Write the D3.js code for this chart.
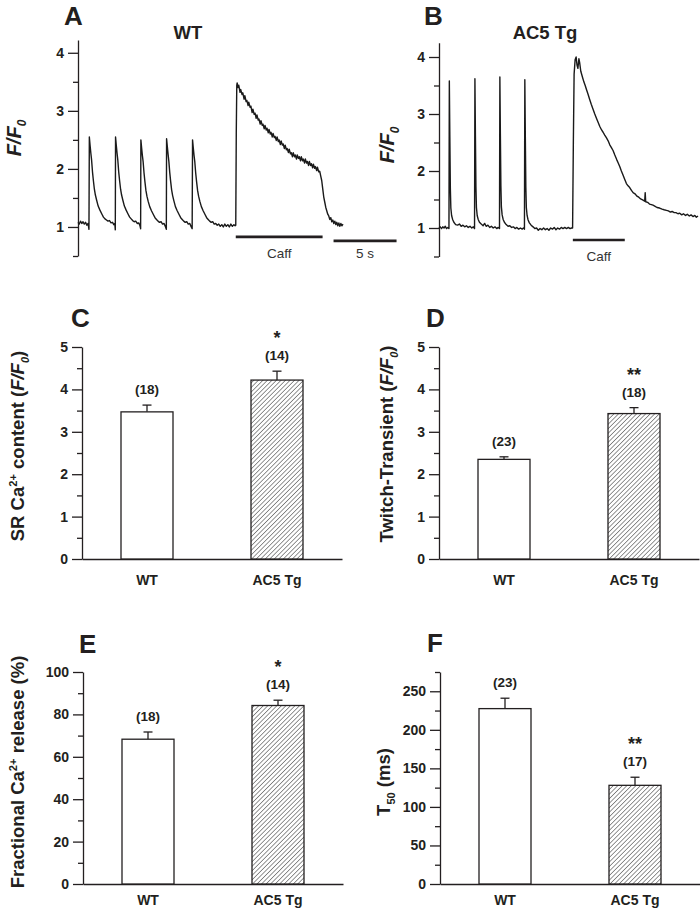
<!DOCTYPE html>
<html><head><meta charset="utf-8">
<script src="https://cdn.jsdelivr.net/npm/d3@7"></script>
<style>body{margin:0;background:#fff}</style>
</head><body><svg id="c" width="700" height="913"></svg>
<script>
// ---------------- DATA ----------------
const groups = ["WT", "AC5 Tg"];

const srContent = [3.47, 4.22];
const srContentErr = [0.16, 0.21];
const srContentN = ["(18)", "(14)"];
const srContentSig = ["", "*"];

const twitchTransient = [2.35, 3.43];
const twitchTransientErr = [0.06, 0.14];
const twitchTransientN = ["(23)", "(18)"];
const twitchTransientSig = ["", "**"];

const fractionalRelease = [68.3, 84.2];
const fractionalReleaseErr = [3.4, 2.5];
const fractionalReleaseN = ["(18)", "(14)"];
const fractionalReleaseSig = ["", "*"];

const t50 = [227.5, 128];
const t50Err = [13.5, 10.5];
const t50N = ["(23)", "(17)"];
const t50Sig = ["", "**"];

const traceTicks = [1, 2, 3, 4];
const traceMinorTicks = [0.5, 1.5, 2.5, 3.5];
const barTicks05 = [0, 1, 2, 3, 4, 5];
const barMinor05 = [0.5, 1.5, 2.5, 3.5, 4.5];
const fracTicks = [0, 20, 40, 60, 80, 100];
const fracMinor = [10, 30, 50, 70, 90];
const t50Ticks = [0, 50, 100, 150, 200, 250];
const t50Minor = [25, 75, 125, 175, 225, 275];

// time (s), F/F0
const wtTrace = [
[0.00,1.08],[0.10,1.05],[0.20,1.10],[0.30,1.06],[0.40,1.09],[0.50,1.05],[0.60,1.08],[0.70,1.03],[0.80,1.06],[0.87,0.96],
[0.90,2.55],[0.96,2.40],[1.02,2.27],[1.08,2.15],[1.15,1.95],[1.22,1.80],[1.30,1.65],[1.38,1.55],[1.48,1.46],[1.60,1.36],[1.74,1.29],[1.90,1.22],[2.02,1.17],[2.14,1.14],[2.26,1.12],[2.38,1.10],[2.50,1.11],[2.62,1.07],[2.74,1.08],[2.84,1.04],[2.92,1.06],[2.96,0.95],
[2.98,2.55],[3.04,2.40],[3.10,2.27],[3.16,2.15],[3.23,1.95],[3.30,1.80],[3.38,1.65],[3.46,1.55],[3.56,1.46],[3.68,1.36],[3.82,1.29],[3.98,1.22],[4.10,1.17],[4.22,1.14],[4.34,1.11],[4.46,1.09],[4.58,1.10],[4.70,1.06],[4.82,1.07],[4.92,1.02],[4.97,0.97],
[4.99,2.50],[5.05,2.36],[5.11,2.23],[5.17,2.12],[5.24,1.93],[5.31,1.78],[5.39,1.63],[5.47,1.53],[5.57,1.44],[5.69,1.35],[5.83,1.28],[5.99,1.21],[6.11,1.16],[6.23,1.13],[6.35,1.10],[6.47,1.08],[6.59,1.09],[6.71,1.05],[6.83,1.06],[6.93,1.01],[7.01,0.96],
[7.03,2.52],[7.09,2.38],[7.15,2.25],[7.21,2.13],[7.28,1.94],[7.35,1.79],[7.43,1.64],[7.51,1.54],[7.61,1.45],[7.73,1.35],[7.87,1.28],[8.03,1.21],[8.15,1.16],[8.27,1.13],[8.39,1.10],[8.51,1.08],[8.63,1.09],[8.75,1.05],[8.87,1.06],[8.97,1.01],[9.06,0.97],
[9.09,2.50],[9.15,2.36],[9.21,2.23],[9.27,2.12],[9.34,1.93],[9.41,1.78],[9.49,1.63],[9.57,1.53],[9.67,1.44],[9.79,1.35],[9.93,1.28],[10.09,1.21],[10.21,1.16],[10.33,1.13],[10.45,1.10],[10.57,1.08],[10.69,1.09],[10.81,1.05],[10.93,1.06],[11.05,1.03],[11.17,1.05],[11.29,1.01],[11.41,1.04],[11.53,1.00],[11.65,1.05],[11.77,1.01],[11.89,1.04],[12.01,1.00],[12.13,1.05],[12.25,1.01],[12.37,1.04],[12.47,1.02],
[12.52,1.03],[12.56,2.60],[12.60,3.44],[12.63,3.48],[12.70,3.40],[12.76,3.44],[12.86,3.32],[12.91,3.37],[13.02,3.28],[13.08,3.31],[13.18,3.20],[13.24,3.26],[13.34,3.16],[13.40,3.18],[13.50,3.09],[13.55,3.15],[13.66,3.06],[13.72,3.08],[13.82,2.97],[13.88,3.03],[13.98,2.94],[14.05,2.96],[14.14,2.87],[14.20,2.93],[14.30,2.84],[14.36,2.86],[14.46,2.77],[14.52,2.83],[14.62,2.75],[14.68,2.77],[14.78,2.69],[14.84,2.75],[14.94,2.67],[15.00,2.70],[15.10,2.62],[15.16,2.68],[15.26,2.60],[15.32,2.63],[15.42,2.55],[15.48,2.61],[15.58,2.54],[15.64,2.56],[15.74,2.49],[15.80,2.55],[15.90,2.47],[15.96,2.50],[16.06,2.42],[16.12,2.48],[16.22,2.41],[16.28,2.43],[16.38,2.35],[16.44,2.41],[16.54,2.33],[16.60,2.35],[16.70,2.28],[16.76,2.34],[16.86,2.26],[16.92,2.28],[17.02,2.21],[17.08,2.28],[17.18,2.21],[17.24,2.24],[17.34,2.17],[17.40,2.24],[17.50,2.18],[17.56,2.21],[17.66,2.14],[17.72,2.21],[17.82,2.14],[17.88,2.17],[17.98,2.10],[18.04,2.17],[18.14,2.10],[18.20,2.13],[18.30,2.06],[18.36,2.13],[18.46,2.06],[18.52,2.09],[18.62,2.02],[18.68,2.08],[18.78,2.01],[18.84,2.04],[18.94,1.97],[19.00,2.03],[19.10,1.95],[19.18,1.96],[19.26,1.88],[19.34,1.80],[19.42,1.66],[19.50,1.52],[19.58,1.43],[19.66,1.34],[19.74,1.28],[19.82,1.22],[19.90,1.19],[19.98,1.13],[20.06,1.16],[20.14,1.09],[20.22,1.12],[20.30,1.06],[20.38,1.10],[20.46,1.04],[20.54,1.08],[20.62,1.02],[20.70,1.07],[20.78,1.01],[20.86,1.06],[20.94,1.02],[21.03,1.05]
];

const tgTrace = [
[0.00,1.00],[0.10,1.02],[0.20,0.99],[0.30,1.02],[0.40,1.00],[0.50,1.03],[0.60,0.99],[0.70,1.01],[0.79,0.99],
[0.82,3.58],[0.86,2.60],[0.90,1.70],[0.94,1.35],[1.00,1.22],[1.08,1.15],[1.18,1.10],[1.32,1.06],[1.48,1.05],[1.62,1.07],[1.76,1.03],[1.90,1.05],[2.04,1.02],[2.18,1.04],[2.32,1.01],[2.46,1.03],[2.60,1.00],[2.72,1.02],[2.82,0.99],
[2.85,3.62],[2.89,2.62],[2.93,1.72],[2.97,1.36],[3.03,1.22],[3.11,1.15],[3.21,1.10],[3.35,1.07],[3.50,1.04],[3.62,1.08],[3.74,1.03],[3.88,1.05],[4.02,1.01],[4.16,1.03],[4.30,1.00],[4.44,1.02],[4.58,0.99],[4.70,1.01],[4.80,0.99],
[4.83,3.65],[4.87,2.64],[4.91,1.74],[4.95,1.37],[5.01,1.23],[5.09,1.15],[5.19,1.10],[5.33,1.06],[5.48,1.03],[5.62,1.04],[5.76,1.01],[5.90,1.02],[6.04,0.99],[6.18,1.01],[6.32,0.98],[6.46,1.00],[6.60,0.98],[6.70,1.00],[6.78,0.98],
[6.81,3.60],[6.85,2.60],[6.89,1.72],[6.93,1.36],[6.99,1.22],[7.07,1.14],[7.17,1.09],[7.31,1.05],[7.46,1.02],[7.60,0.99],[7.74,1.00],[7.88,0.96],[8.02,0.99],[8.16,0.97],[8.30,1.00],[8.44,0.97],[8.58,0.99],[8.72,0.96],[8.86,1.00],[9.00,0.98],[9.14,1.01],[9.28,0.97],[9.42,1.00],[9.56,0.98],[9.70,1.01],[9.84,0.99],[9.98,1.01],[10.12,0.99],[10.26,1.01],[10.40,0.99],[10.52,1.00],[10.60,1.00],
[10.66,2.50],[10.72,3.70],[10.80,3.95],[10.88,4.00],[10.95,3.86],[11.02,3.80],[11.10,3.97],[11.16,3.90],[11.25,3.75],[11.38,3.65],[11.50,3.56],[11.60,3.50],[11.70,3.43],[11.82,3.35],[11.95,3.26],[12.08,3.17],[12.23,3.08],[12.36,3.00],[12.50,2.92],[12.63,2.85],[12.76,2.78],[12.90,2.72],[13.02,2.68],[13.15,2.63],[13.29,2.58],[13.42,2.53],[13.55,2.46],[13.68,2.41],[13.81,2.36],[13.95,2.28],[14.10,2.20],[14.22,2.14],[14.34,2.08],[14.47,2.00],[14.60,1.93],[14.74,1.85],[14.87,1.78],[15.00,1.74],[15.13,1.71],[15.27,1.66],[15.40,1.62],[15.55,1.60],[15.70,1.56],[15.85,1.54],[16.00,1.51],[16.19,1.49],[16.32,1.47],[16.36,1.62],[16.40,1.46],[16.55,1.45],[16.70,1.42],[16.85,1.41],[16.98,1.40],[17.15,1.38],[17.30,1.36],[17.50,1.35],[17.70,1.33],[17.86,1.32],[18.04,1.31],[18.20,1.30],[18.36,1.28],[18.50,1.29],[18.66,1.27],[18.80,1.27],[18.96,1.25],[19.10,1.26],[19.26,1.23],[19.40,1.25],[19.56,1.22],[19.70,1.24],[19.86,1.21],[20.00,1.23],[20.15,1.20],[20.30,1.22],[20.42,1.19],[20.55,1.21]
];

// caffeine application periods (s) and scale bar length (s)
const wtCaff = [12.52, 19.41];
const tgCaff = [10.62, 14.74];
const scaleBarSeconds = 5;

// ---------------- DRAWING ----------------
const FONT = "'Liberation Sans', Arial, Helvetica, sans-serif";
const INK = "#231f20";
const svg = d3.select("#c").style("font-family", FONT);
svg.append("rect").attr("width", 700).attr("height", 913).attr("fill", "#fff");

const defs = svg.append("defs");
const pat = defs.append("pattern").attr("id", "hatch").attr("patternUnits", "userSpaceOnUse")
  .attr("width", 3.2).attr("height", 3.2).attr("patternTransform", "rotate(45)");
pat.append("rect").attr("width", 3.2).attr("height", 3.2).attr("fill", "#fff");
pat.append("line").attr("x1", 0).attr("y1", 0).attr("x2", 0).attr("y2", 3.2)
  .attr("stroke", "#2a2a2a").attr("stroke-width", 1.0);

function richText(parent, segs, size, attrs) {
  const t = parent.append("text").attr("font-size", size).attr("font-weight", "bold").attr("fill", INK);
  Object.entries(attrs || {}).forEach(([k, v]) => t.attr(k, v));
  let shift = 0;
  segs.forEach(s => {
    const ts = t.append("tspan").text(s.t);
    const target = s.sup ? -size * 0.4 : s.sub ? size * 0.25 : 0;
    if (target - shift !== 0) ts.attr("dy", target - shift);
    shift = target;
    if (s.sup || s.sub) ts.attr("font-size", size * 0.6);
    if (s.it) ts.attr("font-style", "italic");
  });
  return t;
}

function styleAxis(g, size) {
  g.selectAll("path, line").attr("stroke", INK).attr("stroke-width", 1.3);
  g.selectAll("text").attr("fill", INK).attr("font-size", size).attr("font-weight", "bold")
    .attr("font-family", FONT);
}

function yAxis(g, y, x0, major, minor, fmt) {
  const a = g.append("g").attr("transform", `translate(${x0},0)`)
    .call(d3.axisLeft(y).tickValues(major).tickSize(10).tickSizeOuter(0).tickPadding(4).tickFormat(fmt || d3.format("d")));
  styleAxis(a, 14);
  const m = g.append("g").attr("transform", `translate(${x0},0)`)
    .call(d3.axisLeft(y).tickValues(minor).tickSize(5).tickFormat(""));
  m.select(".domain").remove();
  styleAxis(m, 14);
}

function letter(t, x, y) {
  svg.append("text").attr("x", x).attr("y", y).text(t).attr("font-size", 26)
    .attr("font-weight", "bold").attr("fill", INK);
}

// ---- trace panels ----
function tracePanel(cfg) {
  const g = svg.append("g");
  const x = d3.scaleLinear().domain(cfg.tDomain).range(cfg.xRange);
  const y = d3.scaleLinear().domain(cfg.yDomain).range(cfg.yRange);
  yAxis(g, y, cfg.xRange[0], traceTicks, traceMinorTicks);
  const line = d3.line().x(d => x(d[0])).y(d => y(d[1]));
  g.append("path").datum(cfg.data).attr("d", line).attr("fill", "none")
    .attr("stroke", "#1a1a1a").attr("stroke-width", 1.4).attr("stroke-linejoin", "round");
  // caffeine bar
  g.append("line").attr("x1", x(cfg.caff[0])).attr("x2", x(cfg.caff[1]))
    .attr("y1", y(cfg.caffLevel)).attr("y2", y(cfg.caffLevel))
    .attr("stroke", INK).attr("stroke-width", 2.6);
  g.append("text").attr("x", (x(cfg.caff[0]) + x(cfg.caff[1])) / 2).attr("y", y(cfg.caffLevel) + 21)
    .attr("text-anchor", "middle").attr("font-size", 13.5).attr("fill", "#333").text("Caff");
  if (cfg.scaleBar) {
    const x0 = x(cfg.scaleBar), x1 = x(cfg.scaleBar + scaleBarSeconds);
    g.append("line").attr("x1", x0).attr("x2", x1).attr("y1", y(cfg.scaleLevel)).attr("y2", y(cfg.scaleLevel))
      .attr("stroke", INK).attr("stroke-width", 2.6);
    g.append("text").attr("x", (x0 + x1) / 2).attr("y", y(cfg.scaleLevel) + 17)
      .attr("text-anchor", "middle").attr("font-size", 13.5).attr("fill", "#333").text(scaleBarSeconds + " s");
  }
  // title
  g.append("text").attr("x", cfg.titleX).attr("y", 39).attr("text-anchor", "middle")
    .attr("font-size", 18.5).attr("font-weight", "bold").attr("fill", INK).text(cfg.title);
  // y label
  const lab = g.append("g").attr("transform", `translate(${cfg.labX},${cfg.labY}) rotate(-90)`);
  richText(lab, [{t: "F/F", it: true}, {t: "0", sub: true, it: true}], 20, {"text-anchor": "middle"});
}

letter("A", 64, 25);
letter("B", 424, 25);
tracePanel({data: wtTrace, tDomain: [0, 21.03], xRange: [78, 343], yDomain: [0.5, 4.22], yRange: [256, 40],
  caff: wtCaff, caffLevel: 0.83, scaleBar: 20.28, scaleLevel: 0.76, title: "WT", titleX: 188, labX: 21, labY: 138});
tracePanel({data: tgTrace, tDomain: [0, 20.55], xRange: [439, 698], yDomain: [0.5, 4.25], yRange: [256.5, 42.75],
  caff: tgCaff, caffLevel: 0.79, title: "AC5 Tg", titleX: 545, labX: 394, labY: 145});

// ---- bar panels ----
function barPanel(cfg) {
  const g = svg.append("g");
  const x = d3.scaleBand().domain(groups).range(cfg.xRange).paddingInner(0.6).paddingOuter(0.3);
  const y = d3.scaleLinear().domain(cfg.yDomain).range(cfg.yRange);
  yAxis(g, y, cfg.xRange[0], cfg.ticks, cfg.minor);
  const xa = g.append("g").attr("transform", `translate(0,${cfg.yRange[0]})`)
    .call(d3.axisBottom(x).tickSize(0).tickSizeOuter(0).tickPadding(cfg.xPad));
  styleAxis(xa, 14);
  const rows = groups.map((k, i) => ({k, v: cfg.values[i], e: cfg.err[i], n: cfg.n[i], s: cfg.sig[i], i}));
  // error bars
  rows.forEach(d => {
    const cx = x(d.k) + x.bandwidth() / 2;
    g.append("line").attr("x1", cx).attr("x2", cx).attr("y1", y(d.v)).attr("y2", y(d.v + d.e))
      .attr("stroke", INK).attr("stroke-width", 1.3);
    g.append("line").attr("x1", cx - 4.5).attr("x2", cx + 4.5).attr("y1", y(d.v + d.e)).attr("y2", y(d.v + d.e))
      .attr("stroke", INK).attr("stroke-width", 1.3);
    const nb = y(d.v + d.e) - 11;
    g.append("text").attr("x", cx).attr("y", nb).attr("text-anchor", "middle").attr("font-size", 13.5)
      .attr("font-weight", "bold").attr("fill", INK).text(d.n);
    if (d.s) g.append("text").attr("x", cx).attr("y", nb - 16).attr("text-anchor", "middle").attr("font-size", 18)
      .attr("font-weight", "bold").attr("fill", INK).text(d.s);
  });
  g.selectAll("rect.bar").data(rows).join("rect").attr("class", "bar")
    .attr("x", d => x(d.k)).attr("width", x.bandwidth())
    .attr("y", d => y(d.v)).attr("height", d => y(0) - y(d.v))
    .attr("fill", d => d.i === 1 ? "url(#hatch)" : "#fff")
    .attr("stroke", INK).attr("stroke-width", 1.3);
  const lab = g.append("g").attr("transform", `translate(${cfg.labX},${cfg.labY}) rotate(-90)`);
  richText(lab, cfg.label, 18.5, {"text-anchor": "middle"});
}

letter("C", 71, 327);
letter("D", 426, 327);
letter("E", 79, 653);
letter("F", 427, 652);

barPanel({values: srContent, err: srContentErr, n: srContentN, sig: srContentSig,
  xRange: [82, 342], yDomain: [0, 5], yRange: [559, 347], ticks: barTicks05, minor: barMinor05, xPad: 16,
  labX: 24, labY: 446,
  label: [{t: "SR Ca"}, {t: "2+", sup: true}, {t: " content ("}, {t: "F/F", it: true}, {t: "0", sub: true, it: true}, {t: ")"}]});
barPanel({values: twitchTransient, err: twitchTransientErr, n: twitchTransientN, sig: twitchTransientSig,
  xRange: [439, 699], yDomain: [0, 5], yRange: [559, 347], ticks: barTicks05, minor: barMinor05, xPad: 16,
  labX: 393, labY: 444,
  label: [{t: "Twitch-Transient ("}, {t: "F/F", it: true}, {t: "0", sub: true, it: true}, {t: ")"}]});
barPanel({values: fractionalRelease, err: fractionalReleaseErr, n: fractionalReleaseN, sig: fractionalReleaseSig,
  xRange: [83, 343], yDomain: [0, 100], yRange: [884, 672], ticks: fracTicks, minor: fracMinor, xPad: 11,
  labX: 24, labY: 772,
  label: [{t: "Fractional Ca"}, {t: "2+", sup: true}, {t: " release (%)"}]});
barPanel({values: t50, err: t50Err, n: t50N, sig: t50Sig,
  xRange: [440, 700], yDomain: [0, 275], yRange: [884, 672], ticks: t50Ticks, minor: t50Minor, xPad: 11,
  labX: 390, labY: 782,
  label: [{t: "T"}, {t: "50", sub: true}, {t: " (ms)"}]});
</script></body></html>
